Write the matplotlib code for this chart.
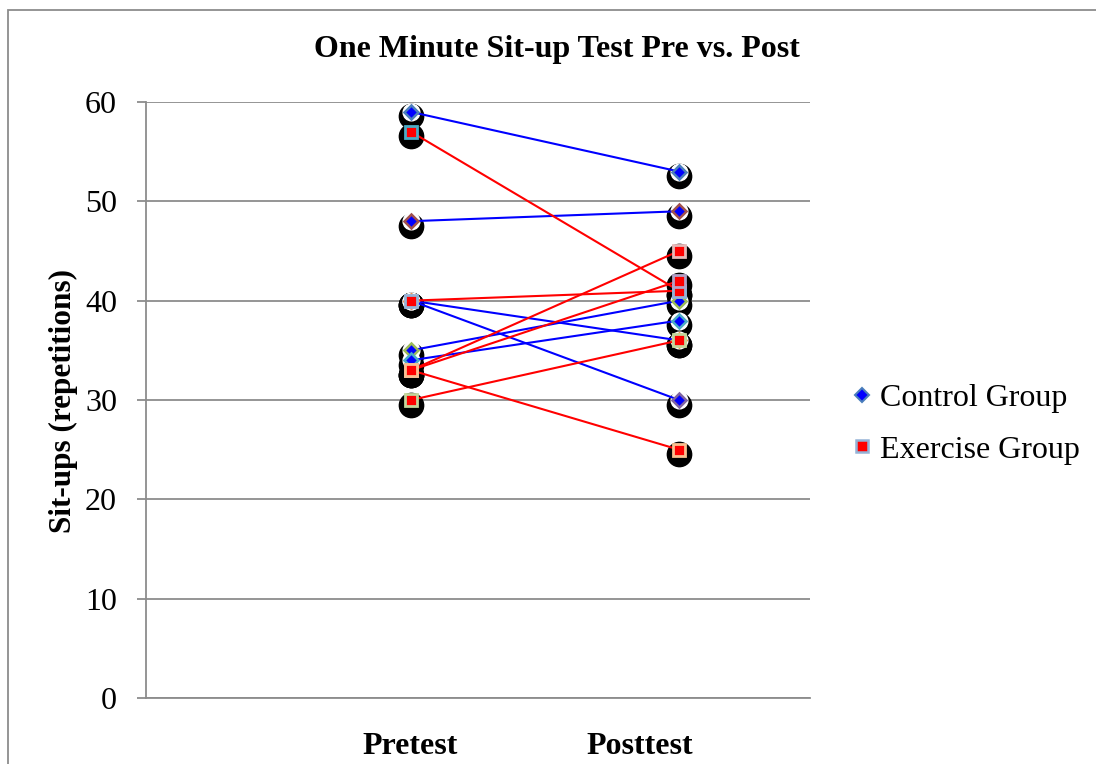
import matplotlib
matplotlib.use("Agg")
import matplotlib.pyplot as plt
import matplotlib.transforms as mtransforms
from matplotlib.lines import Line2D
from matplotlib.patches import Rectangle

plt.rcParams['font.family'] = ['Liberation Serif', 'DejaVu Serif']

categories = ["Pretest", "Posttest"]
control_pre = [59, 48, 40, 40, 35, 34]
control_post = [53, 49, 30, 36, 40, 38]
control_edges = ['#4a7ebb', '#a0504d', '#8064a2', '#f79646', '#9bbb59', '#4bacc6']
exercise_pre = [57, 40, 33, 33, 33, 30]
exercise_post = [41, 41, 45, 42, 25, 36]
exercise_edges = ['#4bacc6', '#95b3d7', '#e6b9b8', '#b3a2c7', '#fac08f', '#c3d69b']
yticks = [0, 10, 20, 30, 40, 50, 60]

fig = plt.figure(figsize=(10.96, 7.64), dpi=100)
fig.patches.append(Rectangle((8/1096, -0.1), 1.2, 1 - 10/764 + 0.1, transform=fig.transFigure,
                             fill=False, edgecolor='#8c8c8c', linewidth=1.3))
ax = fig.add_axes([146/1096, 66/764, 664/1096, 596/764])

xpos = [1, 2]
shadow = ax.transData + mtransforms.ScaledTranslation(0, -4.5/100, fig.dpi_scale_trans)

for pre, post in zip(control_pre + exercise_pre, control_post + exercise_post):
    ax.plot(xpos, [pre, post], linestyle='none', marker='o', markersize=17.5,
            color='black', transform=shadow, zorder=1, clip_on=False)
for pre, post in zip(control_pre, control_post):
    ax.plot(xpos, [pre, post], linestyle='none', marker='o', markersize=12,
            color='white', zorder=1.5, clip_on=False)

for pre, post, ec in zip(control_pre, control_post, control_edges):
    ax.plot(xpos, [pre, post], color='#0000ff', linewidth=1.5, zorder=2)
    ax.plot(xpos, [pre, post], linestyle='none', marker='D', markersize=7,
            markerfacecolor='#0000ff', markeredgecolor=ec, markeredgewidth=1.8, zorder=3)
for pre, post, ec in zip(exercise_pre, exercise_post, exercise_edges):
    ax.plot(xpos, [pre, post], color='#ff0000', linewidth=1.5, zorder=2)
    ax.plot(xpos, [pre, post], linestyle='none', marker='s', markersize=9,
            markerfacecolor='#ff0000', markeredgecolor=ec, markeredgewidth=2, zorder=4)

ax.set_ylim(0, 60)
ax.set_xlim(0.011, 2.489)
ax.set_yticks(yticks)
ax.set_yticklabels([str(t) for t in yticks], fontsize=23)
ax.yaxis.grid(True, color='#8c8c8c', linewidth=1.3)
ax.set_axisbelow(True)
ax.tick_params(axis='y', length=6.5, width=1.3, color='#8c8c8c', pad=14.4)
ax.set_xticks([0.997, 1.854])
ax.set_xticklabels(categories, fontsize=23, fontweight='bold')
ax.tick_params(axis='x', length=0, pad=24.5)
for s in ['top', 'right']:
    ax.spines[s].set_visible(False)
for s in ['left', 'bottom']:
    ax.spines[s].set_color('#8c8c8c')
    ax.spines[s].set_linewidth(1.3)

ax.set_ylabel("Sit-ups (repetitions)", fontsize=22.5, fontweight='bold', va='center')
ax.yaxis.set_label_coords((63 - 146) / 664, (698 - 401) / 596)
fig.text(557/1096, 1 - 50/764, "One Minute Sit-up Test Pre vs. Post", ha='center', va='center',
         fontsize=23, fontweight='bold')

handles = [Line2D([], [], linestyle='none', marker='D', markersize=7, markerfacecolor='#0000ff',
                  markeredgecolor='#4a7ebb', markeredgewidth=1.5),
           Line2D([], [], linestyle='none', marker='s', markersize=8, markerfacecolor='#ff0000',
                  markeredgecolor='#95b3d7', markeredgewidth=1.8)]
fig.legend(handles, ["Control Group", "Exercise Group"], loc='center left',
           bbox_to_anchor=(854/1096, 1 - 424/764), frameon=False, fontsize=23,
           handlelength=0.5, handletextpad=0.3, labelspacing=0.7, borderaxespad=0, borderpad=0)

fig.savefig("out.png", dpi=100)
